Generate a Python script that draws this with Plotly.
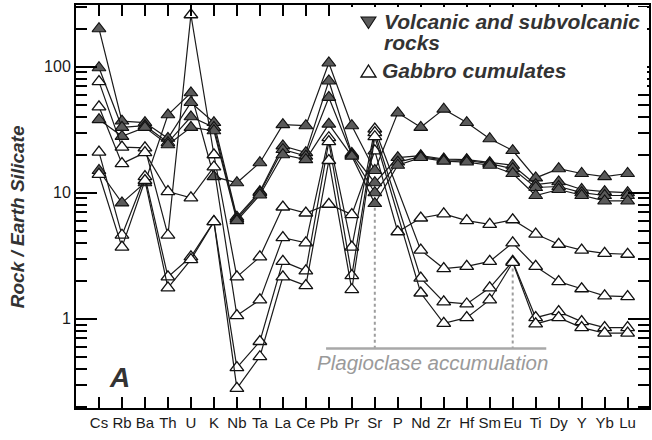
import plotly.graph_objects as go

# Trace elements, normalised to Bulk Silicate Earth
elements = ["Cs", "Rb", "Ba", "Th", "U", "K", "Nb", "Ta", "La", "Ce", "Pb", "Pr",
            "Sr", "P", "Nd", "Zr", "Hf", "Sm", "Eu", "Ti", "Dy", "Y", "Yb", "Lu"]

# Volcanic and subvolcanic rocks
volc_1 = [15, 8.3, 12, 41.5, 62, 13.4, 12, 17.3, 34.7, 34, 107, 34,
          15, 43, 33, 46, 36, 26.8, 21.6, 13.1, 15.5, 14.2, 13.4, 14.2]
volc_2 = [200, 37, 36, 27, 52, 36, 6.4, 10.2, 23.5, 20.8, 77, 20.5,
          12, 19, 19.7, 18.5, 18.3, 17.3, 16.5, 11.6, 12.2, 10.6, 10.2, 10]
volc_3 = [98, 33, 34, 25, 40, 33, 6.2, 10, 22, 19.5, 57, 20,
          10, 17.5, 19.3, 18.2, 18, 17, 15.5, 11, 11.2, 10, 9.5, 9.5]
volc_4 = [38, 28, 33, 24, 33, 31, 6.0, 9.6, 20, 18.3, 35, 19.5,
          8.2, 16.5, 19, 17.8, 17.5, 16.5, 14.2, 9.5, 10.6, 9.5, 8.6, 8.6]

# Gabbro cumulates (P not determined in three samples)
gabbro_1 = [76, 23, 22.7, 4.6, 258, 20, 2.15, 3.1, 7.7, 6.9, 8.1, 6.7,
            21.5, 4.9, 6.3, 6.8, 6.0, 5.6, 6.1, 4.7, 3.9, 3.5, 3.3, 3.25]
gabbro_2 = [48, 17, 20.8, 10.2, 9.1, 16, 1.06, 1.41, 4.4, 4.0, 27.3, 3.7,
            32, None, 3.5, 2.5, 2.6, 2.85, 4.0, 2.6, 1.97, 1.73, 1.52, 1.5]
gabbro_3 = [21, 4.6, 13.4, 2.15, 3.1, 5.9, 0.41, 0.66, 2.85, 2.4, 25.4, 2.2,
            30, None, 2.1, 1.36, 1.31, 1.76, 2.85, 1.02, 1.14, 0.95, 0.85, 0.85]
gabbro_4 = [14, 3.7, 12.5, 1.76, 2.95, 5.9, 0.28, 0.5, 2.15, 1.83, 18, 1.7,
            27.8, None, 1.6, 0.92, 1.02, 1.41, 2.8, 0.91, 1.02, 0.85, 0.77, 0.77]

volcanic = [volc_1, volc_2, volc_3, volc_4]
gabbros = [gabbro_1, gabbro_2, gabbro_3, gabbro_4]

y_ticks = [1, 10, 100]
y_tick_text = ["1", "10", "100"]

FONT = "Liberation Sans, Arial, Helvetica, sans-serif"
W, H = 652, 440
L, R, T, B = 76, 651, 5, 408   # plot area in pixels


def fx(p):
    return (p - L) / (R - L)


def fy(p):
    return (B - p) / (B - T)


fig = go.Figure()

line_style = dict(color="#1a1a1a", width=1.2)
for vals in volcanic:
    fig.add_trace(go.Scatter(
        x=elements, y=vals, mode="lines+markers", connectgaps=True,
        line=line_style, showlegend=False, hoverinfo="skip",
        marker=dict(symbol="triangle-up", size=12, color="#5a5a5a",
                    line=dict(color="#111111", width=1.1))))
for vals in gabbros:
    fig.add_trace(go.Scatter(
        x=elements, y=vals, mode="lines+markers", connectgaps=True,
        line=line_style, showlegend=False, hoverinfo="skip",
        marker=dict(symbol="triangle-up", size=12, color="white",
                    line=dict(color="#111111", width=1.3))))

minor_vals = [m * d for d in (0.1, 1, 10, 100) for m in range(2, 10)]
minor_vals = [v for v in minor_vals if 0.2 <= v <= 300]

fig.update_xaxes(
    type="category", range=[-1, 23.93],
    showline=True, linewidth=2, linecolor="black", mirror="ticks",
    ticks="inside", ticklen=11, tickwidth=1.5, tickcolor="black",
    showgrid=False, zeroline=False,
    tickfont=dict(family=FONT, size=15, color="#1a1a1a"))
fig.update_yaxes(
    type="log", range=[-0.708, 2.489],
    tickvals=y_ticks, ticktext=y_tick_text,
    showline=True, linewidth=2, linecolor="black", mirror="ticks",
    ticks="inside", ticklen=21, tickwidth=1.5, tickcolor="black",
    minor=dict(tickvals=minor_vals, ticks="inside", ticklen=11,
               tickwidth=1.5, tickcolor="black", showgrid=False),
    showgrid=False, zeroline=False,
    tickfont=dict(family=FONT, size=16, color="#1a1a1a"))

gray = "#9d9d9d"
shapes = [
    # plagioclase accumulation markers
    dict(type="line", xref="x", yref="y", x0="Sr", x1="Sr", y0=7.6, y1=0.582,
         line=dict(color=gray, width=2, dash="dot"), layer="below"),
    dict(type="line", xref="x", yref="y", x0="Eu", x1="Eu", y0=2.5, y1=0.582,
         line=dict(color=gray, width=2, dash="dot"), layer="below"),
    dict(type="line", xref="x", yref="y", x0=9.88, x1=19.46, y0=0.582, y1=0.582,
         line=dict(color="#a8a8a8", width=2.5), layer="below"),
    # key panel
    dict(type="rect", xref="paper", yref="paper",
         x0=fx(342), x1=fx(649), y0=fy(90), y1=fy(7),
         fillcolor="white", line=dict(width=0), layer="above"),
    dict(type="path", xref="paper", yref="paper",
         path=f"M {fx(362)},{fy(17)} L {fx(377)},{fy(17)} L {fx(369.5)},{fy(28.5)} Z",
         fillcolor="#5a5a5a", line=dict(color="#111111", width=1.1), layer="above"),
    dict(type="path", xref="paper", yref="paper",
         path=f"M {fx(369.5)},{fy(65)} L {fx(377)},{fy(77)} L {fx(362)},{fy(77)} Z",
         fillcolor="white", line=dict(color="#111111", width=1.4), layer="above"),
]

bold_it = dict(family=FONT, size=21, color="#333333", weight="bold", style="italic")
annotations = [
    dict(text="Volcanic and subvolcanic", x=fx(384), y=fy(9), xanchor="left",
         yanchor="top", font=bold_it),
    dict(text="rocks", x=fx(384), y=fy(30), xanchor="left", yanchor="top",
         font=bold_it),
    dict(text="Gabbro cumulates", x=fx(382), y=fy(58), xanchor="left",
         yanchor="top", font=bold_it),
    dict(text="Rock / Earth Silicate", x=fx(17), y=fy(217), textangle=-90,
         xanchor="center", yanchor="middle",
         font=dict(family=FONT, size=19, color="#333333", weight="bold",
                   style="italic")),
    dict(text="A", x=fx(120), y=fy(377), xanchor="center", yanchor="middle",
         font=dict(family=FONT, size=28, color="#333333", weight="bold",
                   style="italic")),
    dict(text="Plagioclase accumulation", x=fx(434), y=fy(362),
         xanchor="center", yanchor="middle",
         font=dict(family=FONT, size=20.5, color="#9a9a9a", style="italic")),
]
for a in annotations:
    a.update(xref="paper", yref="paper", showarrow=False, borderpad=0)

fig.update_layout(
    width=W, height=H,
    margin=dict(l=L, r=W - R, t=T, b=H - B),
    paper_bgcolor="white", plot_bgcolor="white",
    showlegend=False, shapes=shapes, annotations=annotations,
    font=dict(family=FONT, color="#1a1a1a"))

fig.write_html("out.html")
